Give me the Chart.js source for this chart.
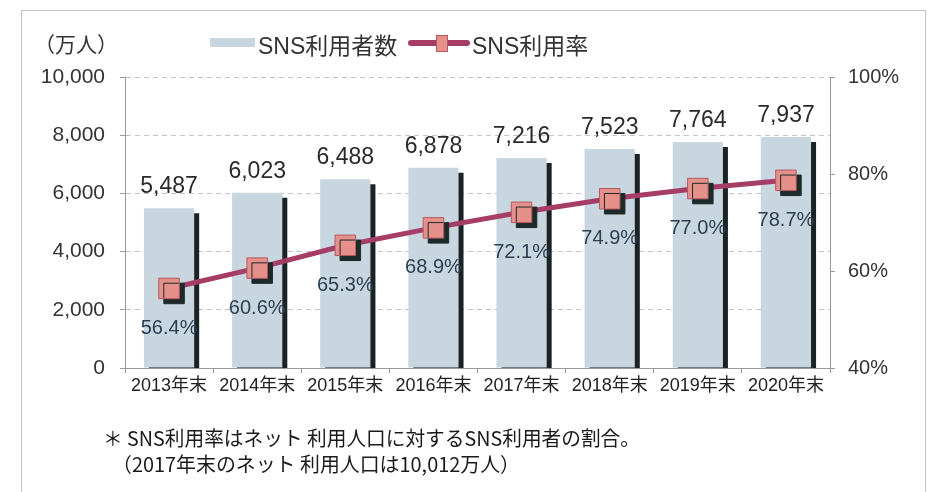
<!DOCTYPE html>
<html>
<head>
<meta charset="utf-8">
<script src="https://cdn.jsdelivr.net/npm/chart.js@4/dist/chart.umd.min.js"></script>
<style>
  html, body { margin: 0; padding: 0; background: #fff; }
  #wrap { position: relative; width: 930px; height: 492px; overflow: hidden; }
  #c { position: absolute; left: 0; top: 0; }
  .frame { position: absolute; left: 21px; top: 10px; width: 905px; height: 520px; border: 1px solid #c4c4c4; box-sizing: border-box; }
  .t { position: absolute; white-space: pre; color: #333; font-family: "Liberation Sans", "Noto Sans CJK JP", sans-serif; line-height: 1; }
  .foot { position: absolute; white-space: pre; color: #1a1a1a; font-family: "Noto Sans CJK JP", sans-serif; line-height: 1; transform-origin: 0 50%; }
</style>
</head>
<body>
<div id="wrap">
  <div class="frame"></div>
  <canvas id="c" width="930" height="492"></canvas>
  <div class="t" style="left:34px; top:33px; font-size:21px; font-family:'Noto Sans CJK JP',sans-serif;">（万人）</div>
  <div style="position:absolute; left:210px; top:38px; width:45px; height:9px; background:#c8d6e0;"></div>
  <div class="t" id="lg1" style="left:258px; top:35px; font-size:23px;"></div>
  <div style="position:absolute; left:408px; top:40px; width:62px; height:6px; background:#a63d66; border-radius:3px;"></div>
  <div style="position:absolute; left:436px; top:35px; width:12px; height:17px; background:#e5908a; border:1px solid #b45a60; box-sizing:border-box;"></div>
  <div class="t" id="lg2" style="left:472px; top:35px; font-size:23px;"></div>
  <div class="foot" id="f1" style="left:103px; top:428px; font-size:20px;"></div>
  <div class="foot" id="f2" style="left:112px; top:454px; font-size:20px;"></div>
</div>
<script>
const categories = ['2013年末', '2014年末', '2015年末', '2016年末', '2017年末', '2018年末', '2019年末', '2020年末'];
const users = [5487, 6023, 6488, 6878, 7216, 7523, 7764, 7937];
const rates = [56.4, 60.6, 65.3, 68.9, 72.1, 74.9, 77.0, 78.7];
const leftTicks = [0, 2000, 4000, 6000, 8000, 10000];
const rightTicks = [40, 60, 80, 100];
const seriesNames = ['SNS利用者数', 'SNS利用率'];
const footnotes = ['＊ SNS利用率はネット 利用人口に対するSNS利用者の割合。', '（2017年末のネット 利用人口は10,012万人）'];

document.getElementById('lg1').textContent = seriesNames[0];
document.getElementById('lg2').textContent = seriesNames[1];
document.getElementById('f1').textContent = footnotes[0];
document.getElementById('f2').textContent = footnotes[1];

function fitWidth(id, target) {
  const el = document.getElementById(id);
  const w = el.getBoundingClientRect().width;
  if (w > 0) el.style.transform = 'scaleX(' + (target / w) + ')';
}
fitWidth('f1', 537);
fitWidth('f2', 408);

Chart.defaults.font.family = '"Liberation Sans", "Noto Sans CJK JP", sans-serif';

const shadowPlugin = {
  id: 'shadow',
  beforeDatasetDraw(chart, args) {
    const ds = chart.data.datasets[args.index];
    if (ds.shadow) {
      const ctx = chart.ctx;
      ctx.save();
      ctx.shadowColor = ds.shadow;
      ctx.shadowOffsetX = 5;
      ctx.shadowOffsetY = 5;
      ctx.shadowBlur = 0;
    }
  },
  afterDatasetDraw(chart, args) {
    const ds = chart.data.datasets[args.index];
    if (ds.shadow) chart.ctx.restore();
  }
};

const labelPlugin = {
  id: 'labels',
  afterDatasetsDraw(chart) {
    const ctx = chart.ctx;
    ctx.save();
    ctx.textAlign = 'center';
    const barMeta = chart.getDatasetMeta(0);
    ctx.font = '23px "Liberation Sans", sans-serif';
    ctx.fillStyle = '#2a2a2a';
    ctx.textBaseline = 'alphabetic';
    barMeta.data.forEach((el, i) => {
      ctx.fillText(users[i].toLocaleString('en-US'), el.x, el.y - 15);
    });
    const ptMeta = chart.getDatasetMeta(2);
    ctx.font = '20px "Liberation Sans", sans-serif';
    ctx.fillStyle = '#2c3f52';
    ctx.textBaseline = 'middle';
    ptMeta.data.forEach((el, i) => {
      ctx.fillText(rates[i].toFixed(1) + '%', el.x, el.y + 40);
    });
    ctx.restore();
  }
};

new Chart(document.getElementById('c'), {
  data: {
    labels: categories,
    datasets: [
      {
        type: 'bar',
        label: seriesNames[0],
        data: users,
        yAxisID: 'y',
        backgroundColor: '#c8d6e0',
        borderWidth: 0,
        barPercentage: 0.57,
        categoryPercentage: 1,
        order: 3,
        shadow: '#1b2327'
      },
      {
        type: 'line',
        label: seriesNames[1],
        data: rates,
        yAxisID: 'y1',
        borderColor: '#a63d66',
        borderWidth: 5,
        pointRadius: 0,
        tension: 0,
        order: 2
      },
      {
        type: 'line',
        label: seriesNames[1] + ' markers',
        data: rates,
        yAxisID: 'y1',
        showLine: false,
        pointStyle: 'rect',
        pointRadius: 14.5,
        pointHoverRadius: 14.5,
        pointBackgroundColor: '#e5908a',
        pointBorderColor: '#b45a60',
        pointBorderWidth: 1,
        order: 1,
        shadow: '#1e2a2a',
        clip: false
      }
    ]
  },
  options: {
    responsive: false,
    animation: false,
    devicePixelRatio: 1,
    layout: { padding: { left: 0, right: 0, top: 77, bottom: 84 } },
    plugins: { legend: { display: false }, tooltip: { enabled: false } },
    scales: {
      x: {
        offset: true,
        grid: { display: true, drawOnChartArea: false, offset: true, tickLength: 5, color: '#9a9a9a' },
        border: { color: '#9a9a9a' },
        ticks: { font: { size: 18 }, color: '#222', padding: 2, maxRotation: 0 },
        afterFit(s) { s.height = 40; }
      },
      y: {
        position: 'left',
        min: leftTicks[0],
        max: leftTicks[leftTicks.length - 1],
        afterBuildTicks(s) { s.ticks = leftTicks.map(v => ({ value: v })); },
        grid: { color: '#c4c4c4', tickLength: 5, tickColor: '#9a9a9a' },
        border: { color: '#9a9a9a', dash: [5, 4] },
        ticks: { font: { size: 21 }, color: '#333', padding: 15, callback: v => v.toLocaleString('en-US') },
        afterFit(s) { s.width = 125; }
      },
      y1: {
        position: 'right',
        min: rightTicks[0],
        max: rightTicks[rightTicks.length - 1],
        afterBuildTicks(s) { s.ticks = rightTicks.map(v => ({ value: v })); },
        grid: { drawOnChartArea: false, tickLength: 5, color: '#9a9a9a' },
        border: { color: '#9a9a9a' },
        ticks: { font: { size: 20 }, color: '#333', padding: 13, callback: v => v + '%' },
        afterFit(s) { s.width = 100; }
      }
    }
  },
  plugins: [shadowPlugin, labelPlugin]
});
</script>
</body>
</html>
